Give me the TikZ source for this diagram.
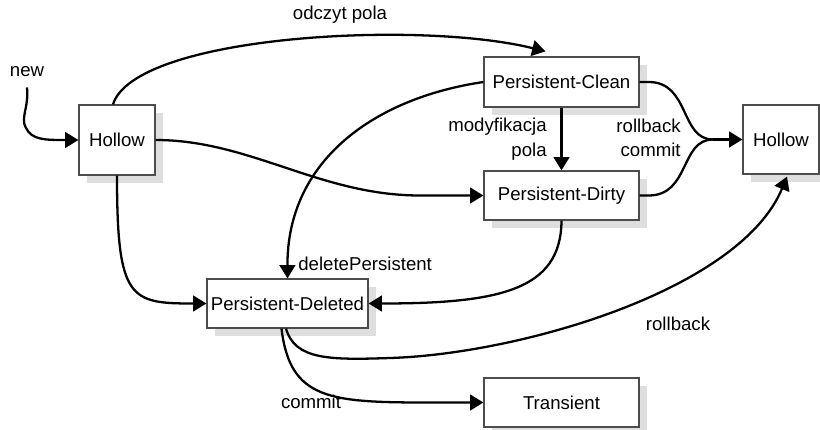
\documentclass[tikz,border=0pt]{standalone}
\usepackage{fontspec}
\setmainfont{Liberation Sans}
\usetikzlibrary{arrows.meta, shadows, calc}
\tikzstyle{state} = [draw=black!70, line width=0.7pt, fill=white, inner sep=0pt, font=\fontsize{10.6}{14}\selectfont, drop shadow={shadow xshift=4.5pt, shadow yshift=-4.5pt, fill=black!13, opacity=1}]
\tikzstyle{arrow} = [line width=1.3pt, -{Triangle[length=7.6pt,width=9pt]}]
\tikzstyle{line} = [line width=1.3pt]
\tikzstyle{lbl} = [inner sep=0pt, font=\fontsize{10.6}{14}\selectfont]

\begin{document}
\begin{tikzpicture}[x=0.02cm,y=-0.02cm]
\useasboundingbox (0,0) rectangle (820,429);

% states
\node[state, minimum width=1.52cm, minimum height=1.40cm] (hollow1) at (117,140) {Hollow};
\node[state, minimum width=3.10cm, minimum height=1.00cm] (clean) at (561.5,82) {Persistent-Clean};
\node[state, minimum width=3.10cm, minimum height=0.98cm] (dirty) at (561.5,195.5) {Persistent-Dirty};
\node[state, minimum width=1.52cm, minimum height=1.38cm] (hollow2) at (781,139.5) {Hollow};
\node[state, minimum width=3.22cm, minimum height=0.98cm] (deleted) at (287.5,303.5) {Persistent-Deleted};
\node[state, minimum width=3.10cm, minimum height=0.98cm] (transient) at (561.5,402.5) {Transient};

% labels
\node[lbl] (new) at (27,72) {new};
\node[lbl] (odczyt) at (340,15) {odczyt pola};
\node[lbl, anchor=west] (delp) at (298,264) {deletePersistent};
\node[lbl, anchor=east, align=right] (modpola) at (547,139) {modyfikacja\\pola};
\node[lbl, anchor=east, align=right] (rbc) at (681,138) {rollback\\commit};
\node[lbl] (rb) at (678,324) {rollback};
\node[lbl] (commit) at (311,402) {commit};

% transitions
\draw[arrow] ($(new.south)+(0,10)$) .. controls (29,108) and (20,118) .. (26,128) .. controls (32,140) and (45,140) .. (hollow1.west);
\draw[arrow] ($(hollow1.north)+(-4,0)$) .. controls (135,35) and (420,20) .. ($(clean.north)+(-16,-5)$);
\draw[arrow] (hollow1.east) .. controls (250,140) and (320,195.5) .. (420,195.5) -- (dirty.west);
\draw[arrow] (hollow1.south) .. controls (117,300) and (130,303.5) .. (deleted.west);
\draw[arrow] (clean.west) .. controls (375,98) and (287,160) .. (deleted.north);
\draw[arrow] (clean.south) -- (dirty.north);

\coordinate (join) at (713,139.5);
\draw[line] (clean.east) -- ++(9,0) .. controls (690,82) and (680,139.5) .. (join);
\draw[line] (dirty.east) -- ++(9,0) .. controls (690,195.5) and (680,139.5) .. (join);
\draw[arrow] (join) -- (hollow2.west);

\draw[arrow] (dirty.south) .. controls (561,290) and (500,303.5) .. (deleted.east);
\draw[arrow] ($(deleted.south)+(-1.5,0)$) .. controls (295,360) and (330,360) .. (390,358) .. controls (520,354) and (740,290) .. ($(hollow2.south)+(6,2)$);
\draw[arrow] ($(deleted.south)+(-6,0)$) .. controls (290,400) and (330,402.5) .. (430,402.5) -- (transient.west);

\end{tikzpicture}
\end{document}
